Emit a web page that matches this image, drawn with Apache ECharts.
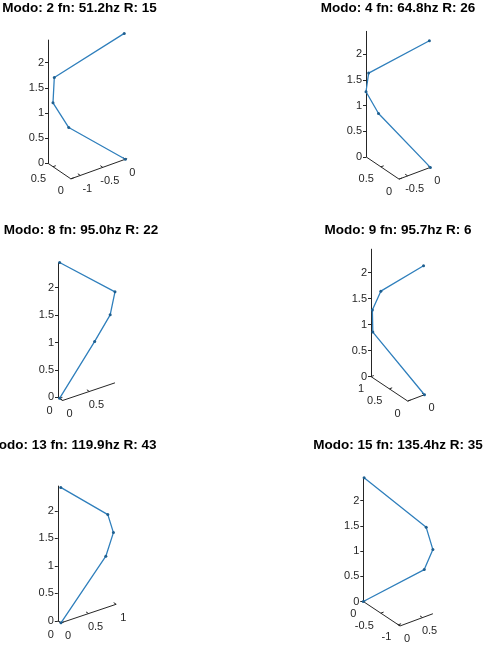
<!DOCTYPE html>
<html><head><meta charset="utf-8">
<script src="https://cdn.jsdelivr.net/npm/echarts@6/dist/echarts.min.js"></script>
<style>html,body{margin:0;padding:0;background:#fff}#c{width:483px;height:645px}</style>
</head><body><div id="c"></div>
<script>
// ---- data (mode shapes: node heights and modal displacements) ----
const titles = ['Modo: 2 fn: 51.2hz R: 15', 'Modo: 4 fn: 64.8hz R: 26', 'Modo: 8 fn: 95.0hz R: 22',
                'Modo: 9 fn: 95.7hz R: 6', 'Modo: 13 fn: 119.9hz R: 43', 'Modo: 15 fn: 135.4hz R: 35'];
const nodeZ = [0, 0.88, 1.27, 1.66, 2.45];
const modo2X = [0, -1.09, -1.21, -1.07, 0.04];
const modo2Y = [0, 0.21, 0.50, 0.64, 0.08];
const modo4X = [0, -0.55, -0.69, -0.68, 0.01];
const modo4Y = [0, 0.74, 0.91, 0.85, 0.04];
const modo8X = [0, 0.60, 0.89, 0.98, 0.03];
const modo8Y = [0, -0.08, -0.08, -0.08, 0.04];
const modo9X = [0, -0.37, -0.34, -0.25, 0.02];
const modo9Y = [0, 0.95, 1.00, 0.88, 0.05];
const modo13X = [0, 0.87, 1.00, 0.87, 0.01];
const modo13Y = [0, 0.08, 0.07, 0.03, 0.02];
const modo15X = [0, 0.60, 0.73, 0.69, 0.01];
const modo15Y = [0, -0.97, -1.05, -0.91, -0.01];
// tick labels of the axes
const zTicks = [0, 0.5, 1, 1.5, 2];
const xTicks2 = [-1, -0.5, 0],  yTicks2 = [0, 0.5];
const xTicks4 = [-0.5, 0],      yTicks4 = [0, 0.5];
const xTicks8 = [0, 0.5],       yTicks8 = [0];
const xTicks9 = [0],            yTicks9 = [0, 0.5, 1];
const xTicks13 = [0, 0.5, 1],   yTicks13 = [0];
const xTicks15 = [0, 0.5],      yTicks15 = [-1, -0.5, 0];
const zInterval = 0.5;

// ---- view / layout (positions & styles) ----
const views = [
  {cx: 48,    cy: 163.3, s: 50.3, ex: [0.895, 0.322], ey: [-0.710, 0.483], tx: 79.5, ty: 8.5},
  {cx: 366,   cy: 156.8, s: 51.2, ex: [0.887, 0.332], ey: [-0.709, 0.479], tx: 398,  ty: 8.5},
  {cx: 58,    cy: 397.3, s: 54.8, ex: [0.974, 0.328], ey: [-0.710, 0.480], tx: 81,   ty: 230},
  {cx: 371,   cy: 376.6, s: 52.0, ex: [0.890, 0.331], ey: [-0.721, 0.471], tx: 398,  ty: 230},
  {cx: 57.8,  cy: 620.8, s: 55.0, ex: [1.004, 0.338], ey: [-0.720, 0.470], tx: 72,   ty: 445},
  {cx: 363.3, cy: 601.5, s: 50.5, ex: [0.891, 0.331], ey: [-0.693, 0.461], tx: 398,  ty: 445}
];
const panels = [
  {X: modo2X,  Y: modo2Y,  xt: xTicks2,  yt: yTicks2},
  {X: modo4X,  Y: modo4Y,  xt: xTicks4,  yt: yTicks4},
  {X: modo8X,  Y: modo8Y,  xt: xTicks8,  yt: yTicks8},
  {X: modo9X,  Y: modo9Y,  xt: xTicks9,  yt: yTicks9},
  {X: modo13X, Y: modo13Y, xt: xTicks13, yt: yTicks13},
  {X: modo15X, Y: modo15Y, xt: xTicks15, yt: yTicks15}
];
const FONT = '"Liberation Sans", Arial, Helvetica, sans-serif';
const AX = '#262626';
const LINE = '#2f7fbc';
const W = 2.2;

const chart = echarts.init(document.getElementById('c'), null, {renderer: 'canvas'});
const grid = [], xAxis = [], yAxis = [], series = [], graphic = [];

panels.forEach((p, i) => {
  const v = views[i];
  const xmin = Math.min(...p.X), xmax = Math.max(...p.X);
  const ymin = Math.min(...p.Y), ymax = Math.max(...p.Y);
  const zmax = Math.max(...nodeZ);
  const proj = (x, y, z) => [
    (x - xmin) * v.ex[0] + (y - ymax) * v.ey[0],
    z + (x - xmin) * v.ex[1] + (y - ymax) * v.ey[1]
  ];
  grid.push({left: v.cx, top: v.cy - zmax * v.s, width: W * v.s, height: zmax * v.s, containLabel: false});
  xAxis.push({type: 'value', gridIndex: i, min: 0, max: W, show: false});
  yAxis.push({type: 'value', gridIndex: i, min: 0, max: zmax, interval: zInterval,
    axisLine: {show: true, lineStyle: {color: AX, width: 1}},
    axisTick: {show: true, inside: false, length: 3, customValues: zTicks, lineStyle: {color: AX, width: 1}},
    axisLabel: {color: AX, fontSize: 11, fontFamily: FONT, margin: 4, customValues: zTicks},
    splitLine: {show: false}});
  // horizontal axes of the 3D box
  series.push({type: 'line', xAxisIndex: i, yAxisIndex: i, clip: false, silent: true, symbol: 'none',
    lineStyle: {color: AX, width: 1},
    data: [proj(xmin, ymax, 0), proj(xmin, ymin, 0), proj(xmax, ymin, 0)]});
  // ticks + labels
  const tickData = [];
  p.xt.forEach(t => { const q = proj(t, ymin, 0); tickData.push([q[0], q[1], String(t), 0]); });
  p.yt.forEach(t => { const q = proj(xmin, t, 0); tickData.push([q[0], q[1], String(t), 1]); });
  series.push({type: 'custom', xAxisIndex: i, yAxisIndex: i, clip: false, silent: true,
    encode: {x: 0, y: 1},
    data: tickData,
    renderItem: (params, api) => {
      const pt = api.coord([api.value(0), api.value(1)]);
      const kind = api.value(3);
      const txt = tickData[params.dataIndex][2];
      const d = kind === 0 ? v.ey : v.ex;
      const len = Math.hypot(d[0], d[1]);
      const dx = d[0] / len * 3, dy = -d[1] / len * 3;
      const lab = kind === 0
        ? {x: pt[0] + 7, y: pt[1] + 13.5, align: 'center'}
        : {x: pt[0] - 7, y: pt[1] + 12.5, align: 'right'};
      return {type: 'group', children: [
        {type: 'line', shape: {x1: pt[0], y1: pt[1], x2: pt[0] + dx, y2: pt[1] + dy},
         style: {stroke: AX, lineWidth: 1}},
        {type: 'text', x: lab.x, y: lab.y,
         style: {text: txt, fill: AX, font: '11px ' + FONT, align: lab.align, textAlign: lab.align,
                 verticalAlign: 'middle', textVerticalAlign: 'middle'}}
      ]};
    }});
  // mode shape
  series.push({type: 'line', xAxisIndex: i, yAxisIndex: i, clip: false, silent: true,
    symbol: 'circle', symbolSize: 3, showAllSymbol: true,
    lineStyle: {color: LINE, width: 1.3},
    itemStyle: {color: '#1f5f8f'},
    data: nodeZ.map((z, k) => proj(p.X[k], p.Y[k], z))});
  graphic.push({type: 'text', x: v.tx, y: v.ty, silent: true,
    style: {text: titles[i], fill: '#000', font: 'bold 13.5px ' + FONT,
            align: 'center', textAlign: 'center', verticalAlign: 'middle', textVerticalAlign: 'middle'}});
});

chart.setOption({animation: false, backgroundColor: '#fff', grid, xAxis, yAxis, series, graphic});
</script>
</body></html>
